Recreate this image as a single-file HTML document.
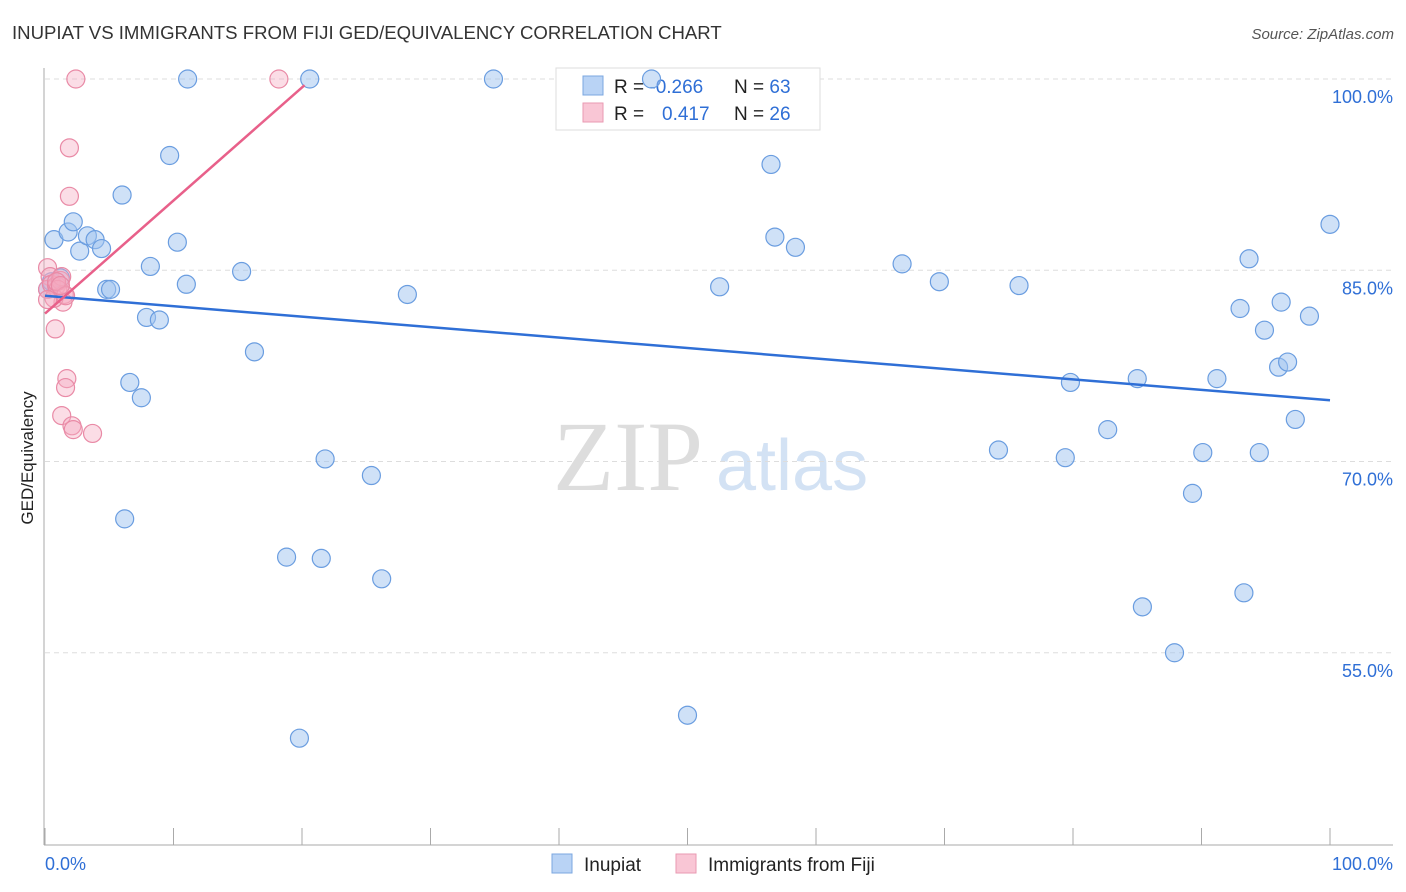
<!DOCTYPE html>
<html><head><meta charset="utf-8"><style>
body{margin:0;background:#fff;font-family:"Liberation Sans",sans-serif;}
svg{display:block}
</style></head><body>
<svg id="chart" width="1406" height="892">
<text x="12" y="39" font-size="18.6" fill="#333">INUPIAT VS IMMIGRANTS FROM FIJI GED/EQUIVALENCY CORRELATION CHART</text>
<text x="1394" y="39" font-size="15" fill="#555" text-anchor="end" font-style="italic">Source: ZipAtlas.com</text>
<text x="33" y="458" font-size="17" fill="#222" text-anchor="middle" transform="rotate(-90 33 458)">GED/Equivalency</text>
<text x="553" y="490" font-size="100" fill="#ddd" font-family="Liberation Serif,serif">ZIP</text>
<text x="716" y="490" font-size="72" fill="#d3e2f4">atlas</text>
<g id="grid"></g><g id="axes"></g>
<g>
<rect x="556" y="68" width="264" height="62" fill="#fff" stroke="#ddd"/>
<rect x="583" y="76" width="20" height="19" fill="#b9d3f5" stroke="#7ba7e0"/>
<text x="614" y="93" font-size="19" fill="#222">R = <tspan fill="#2f6fd6">-0.266</tspan>  <tspan x="734">N = </tspan><tspan fill="#2f6fd6">63</tspan></text>
<rect x="583" y="103" width="20" height="19" fill="#f9c6d5" stroke="#e99ab2"/>
<text x="614" y="120" font-size="19" fill="#222">R = <tspan x="662" fill="#2f6fd6">0.417</tspan><tspan x="734">N = </tspan><tspan fill="#2f6fd6">26</tspan></text>
</g>
<g id="pts"></g><g id="lines"></g>
<g>
<rect x="552" y="854" width="20" height="19" fill="#b9d3f5" stroke="#7ba7e0"/>
<text x="584" y="871" font-size="19" fill="#222">Inupiat</text>
<rect x="676" y="854" width="20" height="19" fill="#f9c6d5" stroke="#e99ab2"/>
<text x="708" y="871" font-size="19" fill="#222">Immigrants from Fiji</text>
</g>
</svg>
<script>
const yTicks=[100,85,70,55];
const xTickLabels=["0.0%","100.0%"];
const blueX=[0.7,1.8,2.2,2.7,3.3,3.9,4.4,4.8,5.1,6.0,6.2,6.6,7.5,7.9,8.2,8.9,9.7,10.3,11.0,11.1,15.3,16.3,18.8,19.8,20.6,21.5,21.8,25.4,26.2,28.2,34.9,47.2,50.0,52.5,56.5,56.8,58.4,66.7,69.6,74.2,75.8,79.4,79.8,82.7,85.0,85.4,87.9,89.3,90.1,91.2,93.0,93.3,93.7,94.5,94.9,96.0,96.2,96.7,97.3,98.4,100,0.2,0.5,1.2];
const blueY=[87.4,88.0,88.8,86.5,87.7,87.4,86.7,83.5,83.5,90.9,65.5,76.2,75.0,81.3,85.3,81.1,94.0,87.2,83.9,100,84.9,78.6,62.5,48.3,100,62.4,70.2,68.9,60.8,83.1,100,100,50.1,83.7,93.3,87.6,86.8,85.5,84.1,70.9,83.8,70.3,76.2,72.5,76.5,58.6,55.0,67.5,70.7,76.5,82.0,59.7,85.9,70.7,80.3,77.4,82.5,77.8,73.3,81.4,88.6,83.5,84.1,84.4];
const pinkX=[2.4,18.2,1.9,1.9,0.2,0.4,0.2,0.5,0.9,1.2,1.3,1.5,1.0,1.4,0.8,1.7,1.6,1.3,2.1,2.2,3.7,0.7,0.9,0.2,1.6,1.2];
const pinkY=[100,100,94.6,90.8,85.2,84.5,83.5,83.9,83.8,84.2,84.5,83.1,83.5,82.5,80.4,76.5,75.8,73.6,72.8,72.5,72.2,82.8,84.1,82.7,83.0,83.8];
const blueTrend=[83.0,74.8];
const pinkTrend=[81.6,0.887,20.2];
const NS="http://www.w3.org/2000/svg";
const xs=v=>45+v*12.85, ys=v=>79+(100-v)*12.75;
function mk(t,a,p){const e=document.createElementNS(NS,t);for(const k in a)e.setAttribute(k,a[k]);p.appendChild(e);return e;}
const grid=document.getElementById('grid'),axes=document.getElementById('axes'),pts=document.getElementById('pts'),lines=document.getElementById('lines');
yTicks.forEach(t=>{
 const l=mk('line',{x1:45,x2:1393,y1:ys(t),y2:ys(t),stroke:'#ddd','stroke-dasharray':'5,4'},grid);
 
 
 const tx=mk('text',{x:1393,y:ys(t)+24,'font-size':18,fill:'#2f6fd6','text-anchor':'end'},axes);
 tx.textContent=t.toFixed(1)+'%';
 
 
});
mk('line',{x1:44,x2:44,y1:68,y2:845,stroke:'#aaa'},axes);
mk('line',{x1:44,x2:1393,y1:845,y2:845,stroke:'#aaa'},axes);
for(let i=0;i<=10;i++){const t=mk('line',{x1:xs(i*10),x2:xs(i*10),y1:828,y2:845,stroke:'#aaa'},axes);
 
 }
const a=mk('text',{x:45,y:870,'font-size':18,fill:'#2f6fd6'},axes);a.textContent=xTickLabels[0];


const b=mk('text',{x:1393,y:870,'font-size':18,fill:'#2f6fd6','text-anchor':'end'},axes);b.textContent=xTickLabels[1];


blueX.forEach((x,i)=>{const c=mk('circle',{cx:xs(x),cy:ys(blueY[i]),r:9,fill:'rgba(160,196,240,0.5)',stroke:'#6a9de0','stroke-width':1.2},pts);
 
 });
pinkX.forEach((x,i)=>{const c=mk('circle',{cx:xs(x),cy:ys(pinkY[i]),r:9,fill:'rgba(245,170,192,0.4)',stroke:'#e98aa6','stroke-width':1.2},pts);
 
 });
const bl=mk('line',{x1:xs(0),y1:ys(blueTrend[0]),x2:xs(100),y2:ys(blueTrend[1]),stroke:'#2f6fd6','stroke-width':2.5},lines);


const pl=mk('line',{x1:xs(0),y1:ys(pinkTrend[0]),x2:xs(pinkTrend[2]),y2:ys(pinkTrend[0]+pinkTrend[1]*pinkTrend[2]),stroke:'#e8608a','stroke-width':2.5},lines);


</script>
</body></html>
